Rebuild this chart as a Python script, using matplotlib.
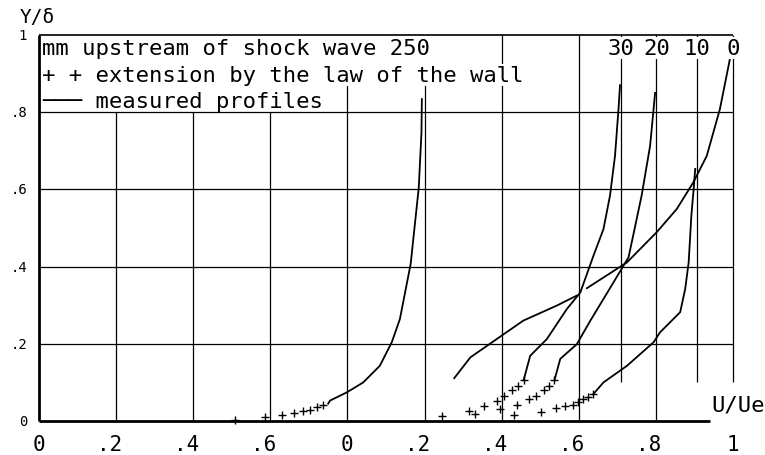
import matplotlib
matplotlib.use('Agg')
import matplotlib.pyplot as plt
import numpy as np

# boundary layer profiles
# every profile is drawn from its own origin on a shared axis
labels = ['250', '30', '20', '10', '0']
origins = [0.0, 0.51, 0.603, 0.707, 0.8]

# measured profiles (U/Ue, Y/delta)
u_meas = [
    [0.750, 0.755, 0.798, 0.841, 0.884, 0.915, 0.936, 0.964, 0.985, 0.992, 0.993],
    [0.747, 0.764, 0.807, 0.859, 0.894, 0.928, 0.954, 0.971, 0.984, 0.993, 0.997],
    [0.734, 0.749, 0.792, 0.827, 0.887, 0.926, 0.938, 0.960, 0.982, 0.991, 0.995],
    [0.731, 0.757, 0.818, 0.887, 0.904, 0.956, 0.969, 0.978, 0.985, 0.991, 0.995],
    [0.277, 0.319, 0.456, 0.543, 0.595, np.nan, 0.621, 0.725, 0.802, 0.854, 0.897, 0.932, 0.966, 0.992],
]
y_meas = [
    [0.045, 0.053, 0.074, 0.100, 0.143, 0.204, 0.264, 0.407, 0.605, 0.748, 0.834],
    [0.106, 0.169, 0.212, 0.290, 0.333, 0.428, 0.497, 0.584, 0.687, 0.808, 0.870],
    [0.106, 0.161, 0.199, 0.260, 0.359, 0.424, 0.480, 0.584, 0.713, 0.808, 0.850],
    [0.070, 0.100, 0.143, 0.204, 0.230, 0.282, 0.342, 0.411, 0.532, 0.601, 0.653],
    [0.111, 0.165, 0.260, 0.299, 0.325, np.nan, 0.344, 0.411, 0.489, 0.549, 0.618, 0.687, 0.808, 0.938],
]

# extension by the law of the wall
u_wall = [
    [0.508, 0.586, 0.630, 0.661, 0.684, 0.703, 0.720, 0.737],
    [0.535, 0.604, 0.622, 0.645, 0.678, 0.697, 0.717, 0.732, 0.747],
    [0.593, 0.630, 0.637, 0.667, 0.687, 0.706, 0.720, 0.734],
    [0.595, 0.634, 0.658, 0.678, 0.692, 0.705, 0.718, 0.731],
    [],
]
y_wall = [
    [0.003, 0.010, 0.016, 0.021, 0.025, 0.029, 0.035, 0.041],
    [0.014, 0.027, 0.018, 0.040, 0.053, 0.066, 0.081, 0.090, 0.106],
    [0.031, 0.016, 0.041, 0.057, 0.066, 0.081, 0.091, 0.106],
    [0.024, 0.033, 0.040, 0.041, 0.048, 0.057, 0.061, 0.070],
    [],
]

xtick_labels = ['0', '.2', '.4', '.6', '0', '.2', '.4', '.6', '.8', '1']
ytick_labels = ['0', '.2', '.4', '.6', '.8', '1']

font = 'DejaVu Sans Mono'
plt.rcParams['font.family'] = font

fig = plt.figure(figsize=(7.65, 4.56), dpi=100)
ax = fig.add_axes([39 / 765, 34 / 456, 694 / 765, 386 / 456])
ax.set_xlim(0, 1.8)
ax.set_ylim(0, 1)
ax.axis('off')

kw = dict(color='black', clip_on=False)
xt = np.arange(len(xtick_labels)) * 0.2
yt = np.arange(len(ytick_labels)) * 0.2

# grid and frame
ax.hlines(yt[1:-1], 0, 1.8, lw=0.9, zorder=1, **kw)
ax.hlines(1, 0, 1.8, lw=1.2, zorder=4, **kw)
ax.hlines(0, 0, 1.74, lw=2, zorder=2, **kw)
ax.vlines(0, 0, 1, lw=2, zorder=2, **kw)
ax.vlines(xt[1:4], 0, 0.8, lw=0.9, zorder=1, **kw)
ax.vlines(xt[4:6], 0, 0.87, lw=0.9, zorder=1, **kw)
ax.vlines(xt[6:9], 0, 1, lw=0.9, zorder=1, **kw)
# edge-velocity lines of the profiles (the 20 mm one is the .8 grid line)
ue = [origins[i] + 1 for i in (1, 3, 4)]
ax.vlines(ue, 0.1, 1, lw=0.9, zorder=1, **kw)

for i in range(len(labels)):
    ax.plot(origins[i] + np.array(u_meas[i]), y_meas[i], lw=1.3, zorder=3, **kw)
    if u_wall[i]:
        ax.plot(origins[i] + np.array(u_wall[i]), y_wall[i], ls='none',
                marker='+', ms=6, mew=1, zorder=3, **kw)

box = dict(facecolor='white', edgecolor='none', pad=1)
for i in range(1, len(labels)):
    ax.text(origins[i] + 1, 0.951, labels[i], ha='center', va='baseline',
            fontsize=16, bbox=box, zorder=3)

ax.text(0.008, 0.951, 'mm upstream of shock wave ' + labels[0], fontsize=16,
        va='baseline', bbox=box, zorder=3)
ax.text(0.008, 0.881, '+ + extension by the law of the wall', fontsize=16,
        va='baseline', bbox=box, zorder=3)
ax.text(0.008, 0.813, '\u2500\u2500\u2500 measured profiles', fontsize=16,
        va='baseline', zorder=3)

for x, t in zip(xt, xtick_labels):
    ax.text(x + 0.015, -0.076, t, ha='right', va='baseline', fontsize=15)
for y, t in zip(yt, ytick_labels):
    ax.text(-0.031, y, t, ha='right', va='center', fontsize=10)

ax.text(1.745, 0.026, 'U/Ue', fontsize=16, va='baseline')
ax.text(-0.049, 1.034, 'Y/\u03b4', fontsize=14, va='baseline')

fig.savefig('out.png', dpi=100)
